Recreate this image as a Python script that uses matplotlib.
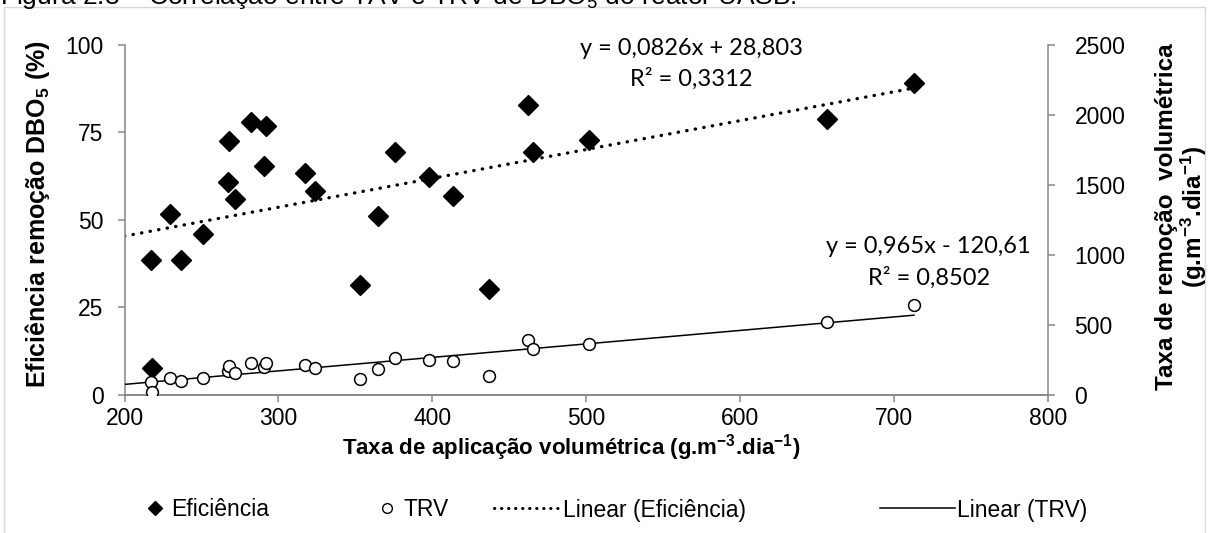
import numpy as np
import matplotlib.pyplot as plt
from matplotlib.lines import Line2D
from matplotlib.patches import Rectangle

plt.rcParams['font.family'] = ['Liberation Sans', 'DejaVu Sans']
plt.rcParams['mathtext.fontset'] = 'custom'
plt.rcParams['mathtext.rm'] = 'Liberation Sans'
plt.rcParams['mathtext.bf'] = 'Liberation Sans:bold'
plt.rcParams['mathtext.default'] = 'bf'

# taxa de aplicacao volumetrica (g/m3.dia)
tav = [217.4, 218.0, 229.7, 236.8, 250.7, 267.2, 267.9, 271.6, 282.4, 290.4, 291.7, 317.1,
       323.6, 352.9, 364.8, 375.9, 398.0, 413.6, 436.8, 462.0, 465.7, 502.1, 656.1, 712.9]
# eficiencia de remocao de DBO5 (%)
eficiencia = [38.6, 7.6, 51.7, 38.6, 46.0, 60.8, 72.6, 56.0, 78.1, 65.5, 76.7, 63.5,
              58.1, 31.4, 51.1, 69.3, 62.1, 56.9, 30.2, 82.9, 69.5, 72.7, 78.9, 89.2]
# taxa de remocao volumetrica (g/m3.dia)
trv = [90, 20, 120, 96, 120, 165, 203, 153, 225, 196, 225, 208,
       192, 113, 185, 263, 249, 239, 132, 387, 327, 363, 518, 637]

# ajustes lineares
coef_ef = (0.0826, 28.803)
r2_ef = '0,3312'
coef_trv = (0.965, -120.61)
r2_trv = '0,8502'

x_ticks = [200, 300, 400, 500, 600, 700, 800]
y_ticks = [0, 25, 50, 75, 100]
y2_ticks = [0, 500, 1000, 1500, 2000, 2500]

W, H = 1208, 533
fig = plt.figure(figsize=(W / 100, H / 100), dpi=100)

# borda da area do grafico
fig.patches.append(Rectangle((4 / W, -0.1), 1201 / W, 1.1 - 7 / H, transform=fig.transFigure,
                             fill=False, edgecolor='#d9d9d9', linewidth=1.0))
fig.text(0 / W, 1 - 4 / H,
         'Figura 2.8 – Correlação entre TAV e TRV de DBO$_{\\mathregular{5}}$ do reator UASB.',
         fontsize=19, va='baseline', ha='left')

ax = fig.add_axes([124.5 / W, 1 - 394.5 / H, 923.5 / W, 349.5 / H])
ax2 = ax.twinx()

grey = '#868686'
xfit = np.array([200, max(tav)])

ax.plot(tav, eficiencia, linestyle='none', marker='D', markersize=10,
        color='black', zorder=3)
ax.plot(xfit, coef_ef[0] * xfit + coef_ef[1], color='black', linewidth=2.4,
        linestyle=(0, (0.1, 2.5)), dash_capstyle='round', zorder=2)

ax2.plot(tav, trv, linestyle='none', marker='o', markersize=8.5,
         markerfacecolor='white', markeredgecolor='black', markeredgewidth=1.1, zorder=3)
ax2.plot(xfit, coef_trv[0] * xfit + coef_trv[1], color='black', linewidth=1.1, zorder=2)

ax.set_xlim(200, 800)
ax.set_ylim(0, 100)
ax2.set_ylim(0, 2500)
ax.set_xticks(x_ticks)
ax.set_yticks(y_ticks)
ax2.set_yticks(y2_ticks)

for a in (ax, ax2):
    a.spines['top'].set_visible(False)
    for s in ('left', 'right', 'bottom'):
        a.spines[s].set_color(grey)
        a.spines[s].set_linewidth(1.1)
    a.tick_params(direction='out', length=5, width=1.1, color=grey, labelsize=16.5)
ax.tick_params(axis='x', pad=4)
ax.tick_params(axis='y', pad=10)
ax2.tick_params(axis='y', pad=14)
ax2.spines['left'].set_visible(False)
ax.spines['right'].set_visible(False)

fig.text(571 / W, 1 - 448 / H, 'Taxa de aplicação volumétrica (g.m$^{-3}$.dia$^{-1}$)',
         fontsize=16, fontweight='bold', ha='center', va='center')
fig.text(38 / W, 1 - 214 / H, 'Eficiência remoção DBO$_5$ (%)', fontsize=18,
         fontweight='bold', rotation=90, ha='center', va='center')
fig.text(1182 / W, 1 - 217 / H, 'Taxa de remoção  volumétrica\n(g.m$^{-3}$.dia$^{-1}$)',
         fontsize=17.5, fontweight='bold', rotation=90, ha='center', va='center',
         multialignment='center', linespacing=1.0)

eq_font = dict(family=['Lato', 'DejaVu Sans'], fontsize=17, ha='center', va='center',
               linespacing=1.5)
ax.text(500 + (692 - 586.7) / 1.539, (394.5 - 64) / 3.495,
        'y = 0,0826x + 28,803\nR² = ' + r2_ef, **eq_font)
ax.text(500 + (929 - 586.7) / 1.539, (394.5 - 262.5) / 3.495,
        'y = 0,965x - 120,61\nR² = ' + r2_trv, **eq_font)

# legenda em quatro entradas espacadas
handles = [
    (Line2D([], [], linestyle='none', marker='D', markersize=7, color='black'),
     'Eficiência', 153, 0.2, 0.6),
    (Line2D([], [], linestyle='none', marker='o', markersize=7, markerfacecolor='white',
            markeredgecolor='black'), 'TRV', 385, 0.2, 0.6),
    (Line2D([], [], color='black', linewidth=2.2, linestyle=(0, (0.1, 2.2)),
            dash_capstyle='round'), 'Linear (Eficiência)', 494, 2.88, 0.13),
    (Line2D([], [], color='black', linewidth=1.1), 'Linear (TRV)', 880, 3.27, 0.1),
]
for h, lab, xpx, hl, pad in handles:
    fig.legend(handles=[h], labels=[lab], loc='center left',
               bbox_to_anchor=(xpx / W, 1 - 510 / H), frameon=False, fontsize=16.5,
               handlelength=hl, handletextpad=pad, borderpad=0, borderaxespad=0)

fig.savefig('out.png', dpi=100)
